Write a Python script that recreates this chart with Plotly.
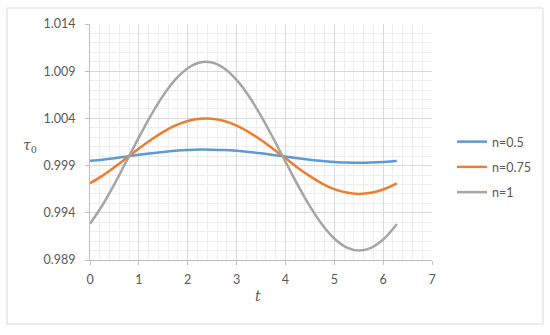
import plotly.graph_objects as go

t = [0, 0.25, 0.5, 0.75, 1.0, 1.25, 1.5, 1.75, 2.0, 2.25, 2.5, 2.75, 3.0, 3.25, 3.5,
     3.75, 4.0, 4.25, 4.5, 4.75, 5.0, 5.25, 5.5, 5.75, 6.0, 6.25, 6.28]

n05 = [0.99950, 0.99963, 0.99979, 0.99997, 1.00014, 1.00030, 1.00045, 1.00057, 1.00065,
       1.00070, 1.00069, 1.00065, 1.00057, 1.00045, 1.00030, 1.00013, 0.99996, 0.99979,
       0.99963, 0.99949, 0.99939, 0.99932, 0.99930, 0.99932, 0.99938, 0.99948, 0.99950]

n075 = [0.99713, 0.99791, 0.99882, 0.99980, 1.00080, 1.00174, 1.00258, 1.00325, 1.00373,
        1.00397, 1.00397, 1.00372, 1.00323, 1.00255, 1.00171, 1.00076, 0.99977, 0.99878,
        0.99788, 0.99710, 0.99651, 0.99614, 0.99600, 0.99612, 0.99647, 0.99704, 0.99713]

n1 = [0.99283, 0.99477, 0.99704, 0.99950, 1.00199, 1.00435, 1.00644, 1.00813, 1.00932,
      1.00993, 1.00992, 1.00929, 1.00808, 1.00638, 1.00427, 1.00190, 0.99942, 0.99696,
      0.99470, 0.99276, 0.99128, 0.99034, 0.99000, 0.99029, 0.99117, 0.99261, 0.99282]

series_names = ["n=0.5", "n=0.75", "n=1"]
series_vals = [n05, n075, n1]
colors = ["#5B9BD5", "#ED7D31", "#A5A5A5"]

FONT = "Lato, 'Open Sans', sans-serif"
GRAY = "#595959"

fig = go.Figure()
for name, vals, c in zip(series_names, series_vals, colors):
    fig.add_trace(go.Scatter(x=t, y=vals, mode="lines", name=name, legendgroup=name,
                             line=dict(color=c, width=2.5, shape="spline")))

L, R, T, B = 90, 432, 24, 260
W, H = 550, 335
pw, ph = R - L, B - T

fig.update_layout(
    width=W, height=H,
    margin=dict(l=L, r=W - R, t=T, b=H - B, pad=0),
    paper_bgcolor="white", plot_bgcolor="white",
    font=dict(family=FONT, size=12, color=GRAY),
    showlegend=True,
    legend=dict(x=(452 - L) / pw, y=(B - 127) / ph, xanchor="left", yanchor="top",
                font=dict(size=12.5, color=GRAY), itemwidth=30,
                tracegroupgap=6, bgcolor="rgba(0,0,0,0)"),
    xaxis=dict(range=[0, 7], dtick=1, tick0=0, showgrid=True, gridcolor="#d9d9d9",
               gridwidth=1, zeroline=False, showline=True, linecolor="#bfbfbf",
               linewidth=1, ticks="outside", ticklen=4, tickcolor="#bfbfbf",
               ticklabelstandoff=4,
               minor=dict(dtick=0.2, showgrid=True, gridcolor="#eeeeee", gridwidth=1),
               tickfont=dict(size=12.5, color=GRAY), fixedrange=True),
    yaxis=dict(range=[0.989, 1.014], dtick=0.005, tick0=0.989, tickformat=".3f",
               showgrid=True, gridcolor="#d9d9d9", gridwidth=1, zeroline=False,
               showline=True, linecolor="#bfbfbf", linewidth=1, ticks="outside",
               ticklen=4, tickcolor="#bfbfbf", ticklabelstandoff=7,
               minor=dict(dtick=0.001, showgrid=True, gridcolor="#eeeeee", gridwidth=1),
               tickfont=dict(size=12.5, color=GRAY), fixedrange=True),
    shapes=[dict(type="rect", xref="paper", yref="paper",
                 x0=(7 - L) / pw, x1=(543 - L) / pw,
                 y0=(B - 324) / ph, y1=(B - 8) / ph,
                 line=dict(color="#d9d9d9", width=1), fillcolor="rgba(0,0,0,0)",
                 layer="below")],
    annotations=[
        dict(text="<i>t</i>", xref="paper", yref="paper", x=(258 - L) / pw,
             y=(B - 296) / ph, showarrow=False, xanchor="center", yanchor="middle",
             font=dict(family="'DejaVu Serif', serif", size=14, color=GRAY)),
        dict(text="<i>τ</i><sub>0</sub>", xref="paper", yref="paper", x=(30 - L) / pw,
             y=(B - 146) / ph, showarrow=False, xanchor="center", yanchor="middle",
             font=dict(family="'DejaVu Serif', serif", size=14, color=GRAY)),
    ],
)

fig.write_html("out.html", config={"displayModeBar": False},
               post_script="document.body.style.margin='0';document.body.style.overflow='hidden';")
